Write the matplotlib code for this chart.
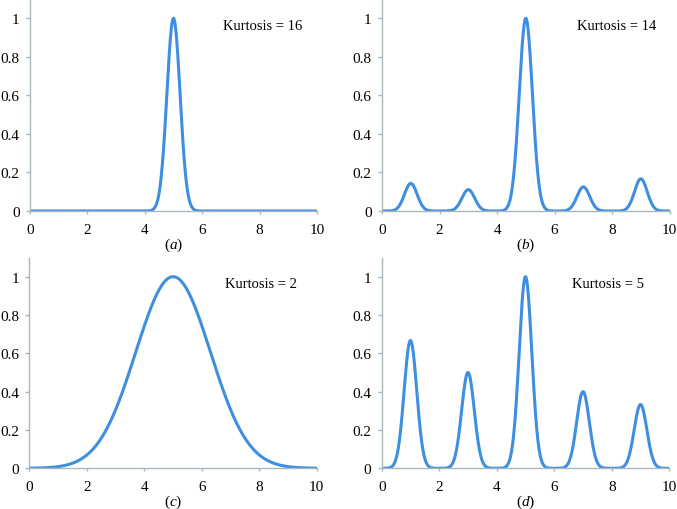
import numpy as np
import matplotlib.pyplot as plt

plt.rcParams['font.family'] = ['Liberation Serif', 'DejaVu Serif']
plt.rcParams['mathtext.fontset'] = 'custom'
plt.rcParams['mathtext.rm'] = 'Liberation Serif'
plt.rcParams['mathtext.it'] = 'Liberation Serif:italic'

# peak centres / heights / widths
centres_a = [5]
heights_a = [1.0]
widths_a = [0.23]

centres_b = [1, 3, 5, 7, 9]
heights_b = [0.143, 0.111, 1.0, 0.125, 0.167]
widths_b = [0.22, 0.22, 0.23, 0.22, 0.22]

centres_c = [5]
heights_c = [1.0]
widths_c = [1.3]

centres_d = [1, 3, 5, 7, 9]
heights_d = [0.667, 0.5, 1.0, 0.4, 0.333]
widths_d = [0.22, 0.22, 0.22, 0.22, 0.22]

kurtosis = [16, 14, 2, 5]
letters = ['a', 'b', 'c', 'd']

x = np.linspace(0, 10, 1001)


def curve(c, h, w):
    y = np.zeros_like(x)
    for ci, hi, wi in zip(c, h, w):
        y += hi * np.exp(-(x - ci) ** 2 / (2 * wi ** 2))
    return y


fig = plt.figure(figsize=(6.77, 5.10), dpi=100)
pos = [[0.0443, 0.5843, 0.4239, 0.4157],
       [0.5643, 0.5843, 0.4248, 0.4157],
       [0.0435, 0.0798, 0.4244, 0.4133],
       [0.5638, 0.0798, 0.4248, 0.4133]]
data = [(centres_a, heights_a, widths_a), (centres_b, heights_b, widths_b),
        (centres_c, heights_c, widths_c), (centres_d, heights_d, widths_d)]
txt_pos = [(6.72, 0.965), (6.79, 0.965), (6.79, 0.965), (6.6, 0.965)]

spine_col = '#a9b6bd'
for i in range(4):
    ax = fig.add_axes(pos[i])
    ax.plot(x, curve(*data[i]), color='#3f8fe0', lw=2.2, solid_capstyle='round')
    ax.set_xlim(0, 10)
    ax.set_ylim(0, 1.1)
    ax.set_xticks([0, 2, 4, 6, 8, 10])
    ax.set_yticks([0, 0.2, 0.4, 0.6, 0.8, 1])
    ax.set_yticklabels(['0', '0.2', '0.4', '0.6', '0.8', '1'])
    for s in ['top', 'right']:
        ax.spines[s].set_visible(False)
    for s in ['left', 'bottom']:
        ax.spines[s].set_color(spine_col)
        ax.spines[s].set_linewidth(1.0)
    ax.tick_params(colors=spine_col, labelcolor='black', labelsize=11,
                   width=1.0, direction='out')
    ax.tick_params(axis='x', length=2.5, pad=6)
    ax.tick_params(axis='y', length=3, pad=4.5)
    ax.set_xlabel('($\\mathit{' + letters[i] + '}$)', fontsize=11, labelpad=0)
    ax.text(txt_pos[i][0], txt_pos[i][1], 'Kurtosis = ' + str(kurtosis[i]),
            fontsize=10.5, ha='left', va='center')

plt.savefig('out.png', dpi=100)
